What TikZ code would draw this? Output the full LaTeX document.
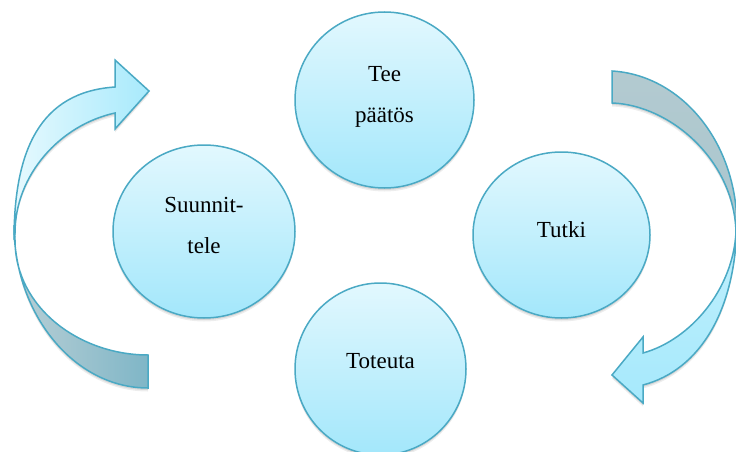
\documentclass[tikz,border=0pt]{standalone}
\usepackage{fontspec}
\setmainfont{Liberation Serif}
\usetikzlibrary{shapes.geometric}
\definecolor{bordc}{HTML}{4AA9C4}
\definecolor{circtop}{HTML}{E2F8FE}
\definecolor{circbot}{HTML}{A3E7FB}
\definecolor{lightL}{HTML}{E6F9FE}
\definecolor{lightR}{HTML}{A8EAFC}
\definecolor{lightT}{HTML}{C2F0FD}
\definecolor{lightB}{HTML}{A6E9FC}
\definecolor{darkL}{HTML}{B9CFD5}
\definecolor{darkR}{HTML}{7FB6C7}
\definecolor{darkT}{HTML}{B3CAD0}
\definecolor{darkB}{HTML}{A9C6CE}
\tikzset{
  softshadow/.style={
    preaction={fill=black,opacity=0.07,transform canvas={yshift=-3.5pt}},
    preaction={fill=black,opacity=0.09,transform canvas={yshift=-2pt}}},
  circ/.style={ellipse, draw=bordc, line width=1.5pt, top color=circtop,
    bottom color=circbot, inner sep=0pt, softshadow},
  txt/.style={align=center, font=\fontsize{23}{41}\selectfont, inner sep=0pt},
  band/.style={draw=bordc, line width=1.5pt, line join=miter, softshadow},
}
\begin{document}
\begin{tikzpicture}[x=1pt,y=-1pt]
\useasboundingbox (0,0) rectangle (736,452);
\fill[white] (0,0) rectangle (736,452);

% left arrow: lower (dark) band
\path[band, left color=darkL, right color=darkR]
  (148,355) .. controls (80,355) and (15,308) .. (15,240)
  -- (14,225) .. controls (14,314) and (74,388) .. (148,388) -- cycle;
% left arrow: upper (light) band with head
\path[band, left color=lightL, right color=lightR]
  (15,233) .. controls (15,175) and (60,125) .. (115,113)
  -- (115,129) -- (149,91) -- (115,60) -- (115,87)
  .. controls (40,92) and (14,150) .. (14,240) -- cycle;

% right arrow: upper (dark) band
\path[band, top color=darkT, bottom color=darkB]
  (612,71) .. controls (680,75) and (736,140) .. (737,225)
  -- (736,232) .. controls (734,160) and (670,105) .. (612,103) -- cycle;
% right arrow: lower (light) band with head
\path[band, top color=lightT, bottom color=lightB]
  (737,218) .. controls (737,310) and (700,370) .. (643,385)
  -- (643,403) -- (612,375) -- (643,337) -- (643,353)
  .. controls (690,340) and (733,290) .. (736,232) -- cycle;

% circles
\node[circ, minimum width=179pt, minimum height=176pt] (tee) at (384.5,100) {};
\node[circ, minimum width=182pt, minimum height=173pt] (suun) at (204,231.5) {};
\node[circ, minimum width=177pt, minimum height=166pt] (tutki) at (561.5,235) {};
\node[circ, minimum width=171pt, minimum height=172pt] (tot) at (380.5,369) {};

% texts
\node[txt] (teeT) at ([yshift=2.6pt]tee.center) {Tee\\päätös};
\node[txt] (suunT) at ([yshift=5.6pt]suun.center) {Suunnit-\\tele};
\node[txt] (tutkiT) at ([yshift=5.8pt]tutki.center) {Tutki};
\node[txt] (totT) at ([yshift=7.6pt]tot.center) {Toteuta};
\end{tikzpicture}
\end{document}
